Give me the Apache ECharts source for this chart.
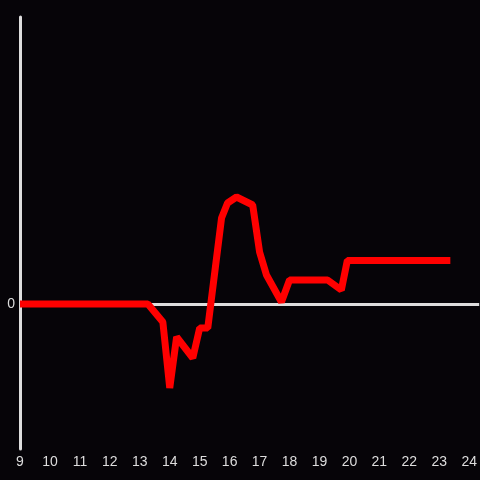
<!DOCTYPE html>
<html>
<head>
<meta charset="utf-8">
<script src="https://cdn.jsdelivr.net/npm/echarts@6/dist/echarts.min.js"></script>
<style>
  html, body { margin: 0; padding: 0; background: #060408; }
  #main { width: 480px; height: 480px; }
</style>
</head>
<body>
<div id="main"></div>
<script>
// hour of day (x) and value (y)
var hours = [9, 13.27, 13.77, 14.0, 14.23, 14.77, 15.0, 15.27, 15.73, 15.93, 16.23, 16.77, 17.0, 17.23, 17.73, 18.0, 19.27, 19.73, 19.93, 23.37];
var values = [0, 0, -1.8, -8.4, -3.3, -5.4, -2.4, -2.4, 8.6, 10.1, 10.7, 9.9, 5.2, 2.9, 0.2, 2.4, 2.4, 1.4, 4.35, 4.35];

var chart = echarts.init(document.getElementById('main'));
var points = hours.map(function (h, i) { return [h, values[i]]; });

var option = {
  backgroundColor: '#060408',
  animation: false,
  grid: { left: 20, right: 0, top: 17, bottom: 31 },
  xAxis: {
    type: 'value',
    min: 9,
    max: 24.333,
    interval: 1,
    axisLine: { show: false, onZero: false },
    axisTick: { show: false },
    splitLine: { show: false },
    axisLabel: {
      color: '#dddddd',
      fontSize: 14,
      fontFamily: 'Liberation Sans, Arial, sans-serif',
      margin: 6,
      showMaxLabel: false
    }
  },
  yAxis: {
    type: 'value',
    min: -14.5,
    max: 28.7,
    interval: 14.5,
    axisLine: { show: true, onZero: false, lineStyle: { color: '#dddddd', width: 3 } },
    axisTick: { show: false },
    splitLine: { show: false },
    axisLabel: {
      color: '#dddddd',
      fontSize: 14,
      fontFamily: 'Liberation Sans, Arial, sans-serif',
      margin: 5,
      showMaxLabel: false,
      formatter: function (v) { return v === 0 ? '0' : ''; }
    }
  },
  series: [{
    type: 'line',
    data: points,
    showSymbol: false,
    lineStyle: { color: '#ff0000', width: 7, cap: 'butt' },
    markLine: {
      silent: true,
      symbol: 'none',
      label: { show: false },
      lineStyle: { color: '#dddddd', width: 3, type: 'solid' },
      data: [{ yAxis: 0 }],
      z: 1
    },
    z: 3
  }]
};
chart.setOption(option);
</script>
</body>
</html>
